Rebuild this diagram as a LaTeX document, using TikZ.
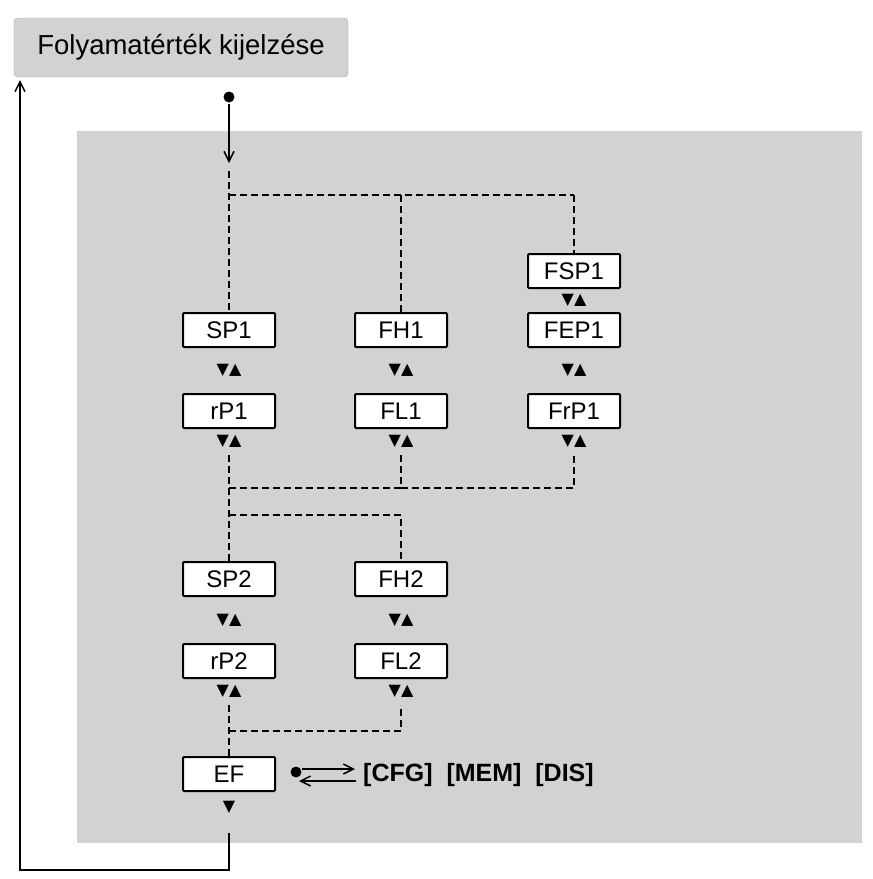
\documentclass[tikz,border=0pt]{standalone}
\usepackage{fontspec}
\setmainfont{Liberation Sans}
\newfontfamily\symf{DejaVu Sans}
\usetikzlibrary{arrows.meta}
\definecolor{panel}{HTML}{D1D2D4}
\begin{document}
\begin{tikzpicture}[x=1pt,y=-1pt,
  box/.style={draw,line width=2pt,fill=white,minimum width=92pt,minimum height=34pt,inner sep=0pt,rounded corners=1pt,font=\fontsize{24}{24}\selectfont},
  dsh/.style={dashed,dash pattern=on 7pt off 4pt,line width=1.4pt},
  tri/.style={font=\symf\fontsize{16}{16}\selectfont,inner sep=0pt},
  ln/.style={line width=1.5pt},
  arr/.style={ln,-{Straight Barb[length=10pt,width=10pt]}}]
\useasboundingbox (0,0) rectangle (873,879);
\fill[panel] (77,131) rectangle (862,843);
\node[draw=gray!70,fill=panel,rounded corners=4pt,minimum width=334pt,minimum height=59pt,font=\fontsize{27.5}{27.5}\selectfont] (pv) at (181,47.5) {Folyamatérték kijelzése};
% boxes
\node[box] (sp1) at (229,330) {SP1};
\node[box] (rp1) at (229,411) {rP1};
\node[box] (fh1) at (401,330) {FH1};
\node[box] (fl1) at (401,411) {FL1};
\node[box] (fsp1) at (574,271) {FSP1};
\node[box] (fep1) at (574,330) {FEP1};
\node[box] (frp1) at (574,411) {FrP1};
\node[box] (sp2) at (229,579) {SP2};
\node[box] (rp2) at (229,661) {rP2};
\node[box] (fh2) at (401,579) {FH2};
\node[box] (fl2) at (401,661) {FL2};
\node[box] (ef) at (229,774) {EF};
% triangles
\foreach \x/\y/\n in {229/370/a,401/370/b,574/370/c,574/300/d,229/441/e,401/441/f,574/441/g,229/620/h,401/620/i,229/691/j,401/691/k}
  \node[tri] (t\n) at (\x,\y) {▼▲};
\node[tri] (tl) at (229,807) {▼};
% entry
\fill (229,97) circle (5.5pt);
\coordinate (d0) at (229,104);
\coordinate (d1) at (229,163);
\draw[arr] (d0) -- (d1);
% dashed tree 1
\coordinate (j1) at (229,195);
\coordinate (j2) at (401,195);
\coordinate (j3) at (574,195);
\draw[dsh] (229,171) -- (sp1.north);
\draw[dsh] (j1) -- (j3);
\draw[dsh] (j2) -- (fh1.north);
\draw[dsh] (j3) -- (fsp1.north);
% tree 2
\draw[dsh] (229,455) -- (sp2.north);
\draw[dsh] (401,455) -- (401,488) -- (574,488) -- (574,455);
\draw[dsh] (229,488) -- (401,488);
\draw[dsh] (229,515) -- (401,515) -- (fh2.north);
% tree 3
\draw[dsh] (229,705) -- (ef.north);
\draw[dsh] (229,731) -- (401,731) -- (401,705);
% return loop
\coordinate (r0) at (229,833);
\coordinate (r1) at (229,870);
\coordinate (r2) at (20,870);
\coordinate (r3) at (20,80);
\draw[arr] (r0) -- (r1) -- (r2) -- (r3);
% menu
\fill (296,772) circle (5.5pt);
\draw[arr] (302,769) -- (355,769);
\draw[arr] (356,781) -- (299,781);
\node[anchor=west,font=\bfseries\fontsize{25}{25}\selectfont,inner sep=0pt] (menu) at (363,775) {[CFG]\ \ [MEM]\ \ [DIS]};
\end{tikzpicture}
\end{document}
